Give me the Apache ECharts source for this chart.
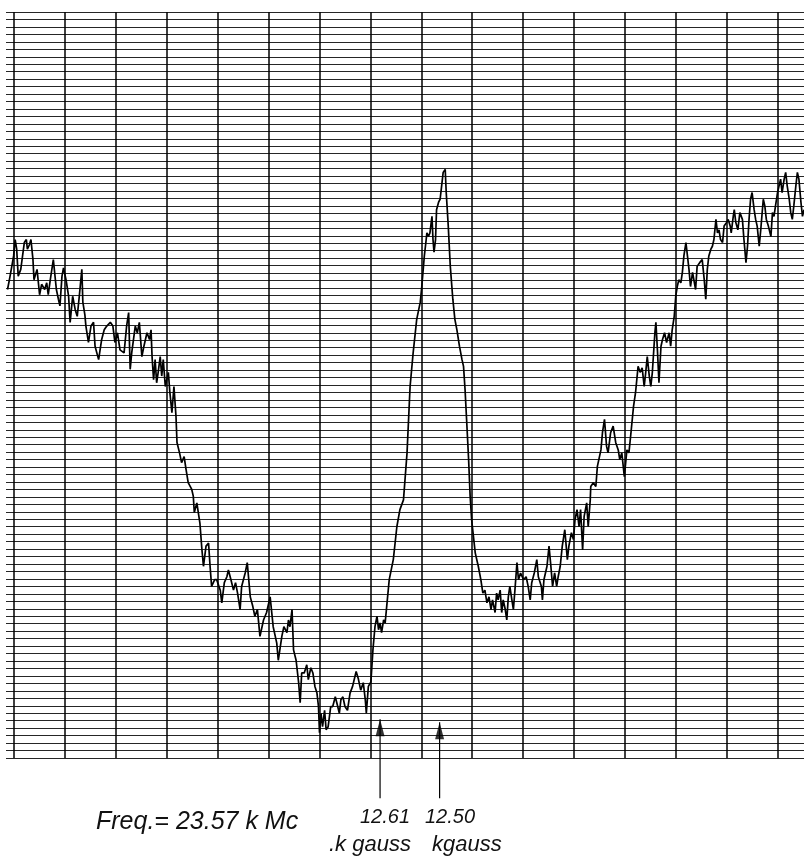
<!DOCTYPE html>
<html>
<head>
<meta charset="utf-8">
<title>Resonance trace</title>
<script src="https://cdn.jsdelivr.net/npm/echarts@6/dist/echarts.min.js"></script>
<style>
  html, body { margin: 0; padding: 0; background: #fff; }
  #chart { width: 804px; height: 862px; }
</style>
</head>
<body>
<div id="chart"></div>
<script>
// x: major chart divisions, y: minor divisions (0..100)
const majorLines = [0, 1, 2, 3, 4, 5, 6, 7, 8, 9, 10, 11, 12, 13, 14, 15];

const leftWing = [
  [-0.13,62.8],[-0.08,64.6],[-0.01,67.3],[0.02,69.5],[0.05,68.2],[0.08,64.6],[0.13,65.5],[0.20,69.1],[0.24,69.5],[0.26,68.2],
  [0.30,68.8],[0.33,69.5],[0.37,66.8],[0.39,64.1],[0.45,65.5],[0.50,62.1],[0.54,63.5],[0.60,62.8],[0.64,63.7],[0.67,62.1],
  [0.71,64.1],[0.77,66.8],[0.83,62.8],[0.87,61.5],[0.90,60.6],[0.94,64.6],[0.97,65.7],[1.02,64.1],[1.07,61.9],[1.10,58.4],
  [1.15,61.9],[1.20,60.1],[1.24,59.2],[1.28,61.9],[1.33,65.5],[1.35,61.1],[1.39,59.4],[1.41,57.9],[1.46,55.7],[1.51,57.9],
  [1.56,58.4],[1.59,55.2],[1.66,53.4],[1.72,56.1],[1.77,57.4],[1.82,57.9],[1.89,58.4],[1.94,57.9],[1.98,55.7],[2.03,57.0],
  [2.08,54.7],[2.16,54.3],[2.21,57.9],[2.25,59.7],[2.28,52.1],[2.31,54.3],[2.38,57.9],[2.42,57.0],[2.46,58.4],[2.51,53.8],
  [2.55,55.2],[2.61,57.0],[2.66,56.1],[2.69,57.4],[2.71,53.8],[2.74,50.7],[2.77,53.4],[2.80,50.3],[2.83,51.7],[2.87,53.8],
  [2.90,51.2],[2.93,53.4],[2.97,49.8],[3.03,51.7],[3.06,49.0],[3.10,46.3],[3.14,49.8],[3.18,45.8],[3.20,42.3]
];

const firstDip = [
  [3.25,40.9],[3.29,39.6],[3.34,40.4],[3.38,38.6],[3.42,36.9],[3.49,36.0],[3.52,35.1],[3.54,32.9],[3.59,34.2],[3.65,31.5],
  [3.69,27.9],[3.72,25.7],[3.77,28.4],[3.82,28.8],[3.85,25.7],[3.88,23.0],[3.94,23.9],[3.98,23.9],[4.05,22.5],[4.08,20.8],
  [4.13,23.5],[4.18,24.3],[4.21,25.2],[4.26,23.9],[4.31,22.5],[4.35,23.5],[4.39,22.1],[4.44,19.9],[4.47,23.0],[4.54,24.8],
  [4.58,26.2],[4.64,21.6],[4.69,20.3],[4.73,19.0],[4.78,19.9],[4.83,16.3],[4.90,18.5],[4.96,19.5],[5.03,21.6],[5.09,17.6],
  [5.16,15.4],[5.19,13.1],[5.26,16.3],[5.30,17.6],[5.36,16.8],[5.39,18.5],[5.42,17.6],[5.46,19.9],[5.49,14.5],[5.54,13.1],
  [5.59,10.1],[5.62,7.4],[5.65,11.4],[5.70,11.4],[5.75,12.5],[5.78,10.5],[5.83,12.1],[5.87,11.4],[5.91,9.6],[5.95,8.7],
  [5.98,6.9],[6.00,3.4],[6.03,6.0],[6.06,4.2],[6.10,6.4],[6.13,3.8],[6.17,4.2],[6.22,6.9],[6.26,6.9],[6.31,8.2],
  [6.34,7.4],[6.39,6.0],[6.42,7.8],[6.46,8.2],[6.50,6.9],[6.55,6.4],[6.60,8.7],[6.65,9.6],[6.72,11.6],[6.76,10.7],
  [6.81,9.1],[6.86,10.1],[6.90,7.8],[6.92,6.0],[6.96,9.6],[7.01,10.2]
];

const peak = [
  [7.05,14.5],[7.09,17.6],[7.13,19.0],[7.16,17.2],[7.19,18.1],[7.22,16.8],[7.26,18.5],[7.29,18.1],[7.32,20.3],[7.37,23.9],
  [7.45,26.6],[7.52,31.0],[7.58,33.3],[7.65,34.6],[7.72,40.9],[7.78,49.8],[7.84,54.3],[7.91,58.8],[7.98,61.1],[8.01,63.2],
  [8.06,67.3],[8.09,69.1],[8.11,70.4],[8.14,69.9],[8.17,70.4],[8.21,72.6],[8.23,69.5],[8.25,67.8],[8.28,69.5],[8.30,73.5],
  [8.34,74.5],[8.37,74.9],[8.40,76.7],[8.43,78.5],[8.47,78.9],[8.49,75.8],[8.53,71.3],[8.57,65.9],[8.62,61.5],[8.66,58.8],
  [8.70,57.4],[8.75,55.2],[8.80,53.4],[8.83,52.5],[8.86,49.4],[8.89,45.4],[8.93,40.0],[8.96,35.1],[8.99,31.9],[9.06,27.5]
];

const secondDip = [
  [9.12,25.7],[9.17,23.9],[9.21,22.1],[9.25,22.5],[9.29,20.8],[9.33,21.6],[9.37,19.9],[9.40,21.2],[9.45,19.5],[9.48,22.1],
  [9.51,21.2],[9.55,22.5],[9.58,19.5],[9.61,21.2],[9.65,19.9],[9.68,18.5],[9.71,21.6],[9.74,23.0],[9.78,21.2],[9.81,19.9],
  [9.84,22.5],[9.88,26.2],[9.91,23.9],[9.95,24.8],[10.01,23.9],[10.06,24.3],[10.10,23.0],[10.14,21.2],[10.17,23.5],[10.22,24.8],
  [10.27,26.6],[10.30,24.3],[10.36,23.0],[10.38,21.2],[10.41,23.9],[10.47,25.7],[10.51,28.4],[10.54,26.2],[10.58,23.0],[10.62,24.8],
  [10.66,23.0],[10.69,24.3],[10.73,25.7],[10.77,28.4],[10.82,30.6],[10.87,26.6],[10.90,28.4],[10.95,30.2],[10.99,29.3],[11.02,31.9],
  [11.06,33.3],[11.10,31.0],[11.13,33.3],[11.17,27.9],[11.20,32.4],[11.25,34.2],[11.28,31.0],[11.32,34.6]
];

const rightWing = [
  [11.33,36.4],[11.38,36.9],[11.43,36.4],[11.46,39.1],[11.53,41.3],[11.56,43.6],[11.60,45.4],[11.64,41.8],[11.67,40.9],[11.72,43.6],
  [11.77,44.5],[11.82,42.3],[11.87,41.3],[11.90,40.0],[11.94,40.9],[11.99,37.7],[12.04,41.3],[12.08,40.9],[12.12,43.6],[12.17,47.1],
  [12.21,49.0],[12.26,52.5],[12.30,51.7],[12.34,52.3],[12.38,49.8],[12.41,51.7],[12.44,53.8],[12.48,51.2],[12.51,49.8],[12.54,51.7],
  [12.59,57.0],[12.61,58.4],[12.64,54.7],[12.67,50.3],[12.71,55.2],[12.74,56.1],[12.78,57.0],[12.82,55.7],[12.87,57.0],[12.90,55.2],
  [12.93,57.4],[12.97,59.2],[13.00,61.9],[13.03,63.2],[13.06,64.1],[13.10,63.7],[13.13,65.1],[13.16,67.3],[13.20,69.1],[13.23,67.3],
  [13.26,65.5],[13.29,63.2],[13.33,65.1],[13.36,65.1],[13.39,62.8],[13.42,65.9],[13.47,66.4],[13.52,66.8],[13.56,64.1],[13.59,61.5],
  [13.62,65.5],[13.65,67.3],[13.69,68.2],[13.72,68.6],[13.75,69.5],[13.79,72.2],[13.82,70.4],[13.85,70.8],[13.88,69.5],[13.92,69.1],
  [13.95,71.3],[14.00,71.8],[14.03,72.2],[14.07,71.3],[14.09,70.4],[14.13,72.6],[14.15,73.5],[14.18,71.8],[14.22,70.8],[14.26,73.1],
  [14.31,72.2],[14.34,69.5],[14.38,66.4],[14.41,68.6],[14.44,72.2],[14.47,74.9],[14.50,75.8],[14.54,73.5],[14.57,72.2],[14.60,71.3],
  [14.64,68.6],[14.67,70.8],[14.72,74.9],[14.75,74.0],[14.78,72.2],[14.82,71.3],[14.87,69.9],[14.90,73.1],[14.93,72.6],[14.96,74.0],
  [15.00,75.8],[15.03,76.7],[15.06,77.6],[15.09,75.8],[15.13,77.6],[15.16,78.5],[15.19,76.7],[15.23,74.9],[15.26,73.1],[15.29,72.2],
  [15.32,74.0],[15.36,76.7],[15.39,78.5],[15.42,77.6],[15.46,74.5],[15.49,72.6],[15.52,73.5]
];

// field markers (arrows under the two resonances)
const arrowX = [7.19, 8.36];
const arrowTip = [5.2, 4.8];
const arrowFoot = [-5.4, -5.4];
const fieldLabels = ["12.61", "12.50"];
const unitLabels = [".k gauss", "kgauss"];
const freqLabel = "Freq.= 23.57 k Mc";

const chart = echarts.init(document.getElementById("chart"));

function buildOption() {
  const trace = [].concat(leftWing, firstDip, peak, secondDip, rightWing);

  const arrowShafts = arrowX.map((x, i) => ({
    type: "line",
    clip: false,
    silent: true,
    showSymbol: false,
    lineStyle: { color: "#000", width: 1.2 },
    data: [[x, arrowFoot[i]], [x, arrowTip[i]]],
  }));

  const numFont = 'italic 20px "Liberation Sans", "DejaVu Sans", sans-serif';
  const unitFont = 'italic 22px "Liberation Sans", "DejaVu Sans", sans-serif';

  return {
    backgroundColor: "#fff",
    animation: false,
    grid: { left: 6, right: 0, top: 12, bottom: 104 },
    xAxis: {
      type: "value",
      min: -0.16,
      max: 15.52,
      axisLine: { show: false },
      axisTick: { show: false },
      axisLabel: { show: false },
      splitLine: { show: false },
    },
    yAxis: {
      type: "value",
      min: 0,
      max: 100,
      interval: 1,
      axisLine: { show: false },
      axisTick: { show: false },
      axisLabel: { show: false },
      splitLine: { show: true, lineStyle: { color: "#262626", width: 1 } },
    },
    series: [
      {
        type: "line",
        data: trace,
        showSymbol: false,
        silent: true,
        lineStyle: { color: "#000", width: 1.7 },
        z: 5,
        markLine: {
          silent: true,
          symbol: "none",
          label: { show: false },
          lineStyle: { color: "#000", width: 1.5, type: "solid" },
          data: majorLines.map((v) => ({ xAxis: v })),
        },
      },
      ...arrowShafts,
      {
        type: "scatter",
        silent: true,
        symbol: "triangle",
        symbolSize: [9, 17],
        symbolOffset: [0, 8.5],
        itemStyle: { color: "#000" },
        data: arrowX.map((x, i) => [x, arrowTip[i]]),
      },
    ],
    graphic: [
      {
        type: "text",
        x: 96,
        y: 822,
        style: {
          text: freqLabel,
          font: 'italic 25px "Liberation Sans", "DejaVu Sans", sans-serif',
          fill: "#111",
          verticalAlign: "middle",
        },
      },
      {
        type: "text", x: 385, y: 817,
        style: { text: fieldLabels[0], font: numFont, fill: "#111", align: "center", verticalAlign: "middle" },
      },
      {
        type: "text", x: 450, y: 817,
        style: { text: fieldLabels[1], font: numFont, fill: "#111", align: "center", verticalAlign: "middle" },
      },
      {
        type: "text", x: 329, y: 845,
        style: { text: unitLabels[0], font: unitFont, fill: "#111", verticalAlign: "middle" },
      },
      {
        type: "text", x: 432, y: 845,
        style: { text: unitLabels[1], font: unitFont, fill: "#111", verticalAlign: "middle" },
      },
    ],
  };
}

chart.setOption(buildOption());
</script>
</body>
</html>
